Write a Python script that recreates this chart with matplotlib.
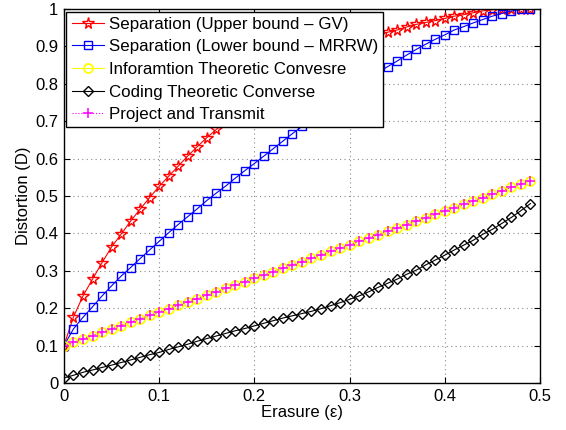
import numpy as np
import matplotlib.pyplot as plt

plt.rcParams['font.family'] = ['Liberation Sans', 'DejaVu Sans']

# erasure probability
eps = [round(0.01 * i, 2) for i in range(50)]

# Separation (Upper bound - GV)
d_gv = [0.100, 0.177, 0.233, 0.278, 0.322, 0.364, 0.398, 0.433, 0.465, 0.496,
        0.526, 0.553, 0.580, 0.607, 0.632, 0.656, 0.678, 0.700, 0.720, 0.740,
        0.759, 0.777, 0.794, 0.811, 0.827, 0.842, 0.856, 0.869, 0.881, 0.893,
        0.904, 0.913, 0.922, 0.930, 0.938, 0.944, 0.952, 0.959, 0.964, 0.969,
        0.975, 0.981, 0.985, 0.990, 0.995, 0.998, 0.999, 1.000, 1.000, 1.000]

# Separation (Lower bound - MRRW)
d_mrrw = [0.100, 0.145, 0.176, 0.204, 0.233, 0.260, 0.286, 0.309, 0.333, 0.356,
          0.379, 0.402, 0.424, 0.445, 0.466, 0.488, 0.508, 0.527, 0.548, 0.568,
          0.587, 0.607, 0.627, 0.647, 0.667, 0.686, 0.705, 0.724, 0.742, 0.760,
          0.778, 0.796, 0.813, 0.830, 0.846, 0.861, 0.877, 0.892, 0.906, 0.919,
          0.931, 0.944, 0.953, 0.963, 0.972, 0.981, 0.988, 0.995, 0.999, 1.000]

# Information theoretic converse (same as project and transmit)
d_info = [0.100, 0.109, 0.118, 0.127, 0.136, 0.145, 0.154, 0.163, 0.172, 0.181,
          0.190, 0.199, 0.208, 0.217, 0.226, 0.235, 0.244, 0.253, 0.262, 0.271,
          0.280, 0.289, 0.298, 0.307, 0.316, 0.325, 0.334, 0.343, 0.352, 0.361,
          0.370, 0.379, 0.388, 0.397, 0.406, 0.415, 0.424, 0.433, 0.442, 0.451,
          0.460, 0.469, 0.478, 0.487, 0.496, 0.505, 0.514, 0.523, 0.532, 0.541]

# Coding theoretic converse
d_code = [0.014, 0.021, 0.029, 0.035, 0.042, 0.048, 0.055, 0.062, 0.069, 0.076,
          0.082, 0.090, 0.097, 0.104, 0.112, 0.119, 0.126, 0.133, 0.140, 0.146,
          0.153, 0.160, 0.167, 0.174, 0.180, 0.186, 0.192, 0.199, 0.207, 0.215,
          0.224, 0.233, 0.244, 0.256, 0.267, 0.278, 0.291, 0.302, 0.316, 0.329,
          0.342, 0.356, 0.369, 0.382, 0.398, 0.411, 0.427, 0.443, 0.461, 0.480]

# Project and transmit
d_pt = list(d_info)

fig = plt.figure(figsize=(5.66, 4.30), dpi=100)
ax = fig.add_axes([0.113, 0.109, 0.841, 0.870])

ax.plot(eps, d_gv, '-', color='red', marker='*', ms=8.5, mfc='none', lw=0.8,
        label='Separation (Upper bound \u2013 GV)')
ax.plot(eps, d_mrrw, '-', color='blue', marker='s', ms=6, mfc='none', lw=0.8,
        label='Separation (Lower bound \u2013 MRRW)')
ax.plot(eps, d_info, '-', color='yellow', marker='o', ms=6.5, mfc='none', mew=1.3,
        lw=0.8, label='Inforamtion Theoretic Convesre')
ax.plot(eps, d_code, '-', color='black', marker='D', ms=5.5, mfc='none', lw=0.8,
        label='Coding Theoretic Converse')
ax.plot(eps, d_pt, ':', color='magenta', marker='+', ms=7.5, mew=1.1, lw=0.8,
        label='Project and Transmit')

ax.set_xlim(0, 0.5)
ax.set_ylim(0, 1)
ax.set_xticks(np.arange(0, 0.51, 0.1))
ax.set_xticklabels(['0', '0.1', '0.2', '0.3', '0.4', '0.5'])
ax.set_yticks(np.arange(0, 1.01, 0.1))
ax.set_yticklabels(['0', '0.1', '0.2', '0.3', '0.4', '0.5', '0.6', '0.7', '0.8', '0.9', '1'])
ax.tick_params(direction='in', labelsize=12, length=4, top=True, right=True, pad=4)
ax.grid(True, linestyle=(0, (1, 3)), color='#888888', lw=0.8)
for s in ax.spines.values():
    s.set_linewidth(1.0)

ax.set_xlabel('Erasure (\u03b5)', fontsize=12, labelpad=1)
ax.set_ylabel('Distortion (D)', fontsize=12, labelpad=3)

leg = ax.legend(loc='upper left', fontsize=12.2, fancybox=False, framealpha=1,
                edgecolor='black', borderaxespad=0.15, handlelength=1.9,
                labelspacing=0.45, borderpad=0.3, handletextpad=0.3)
leg.get_frame().set_linewidth(1.0)

fig.savefig('out.png', dpi=100)
